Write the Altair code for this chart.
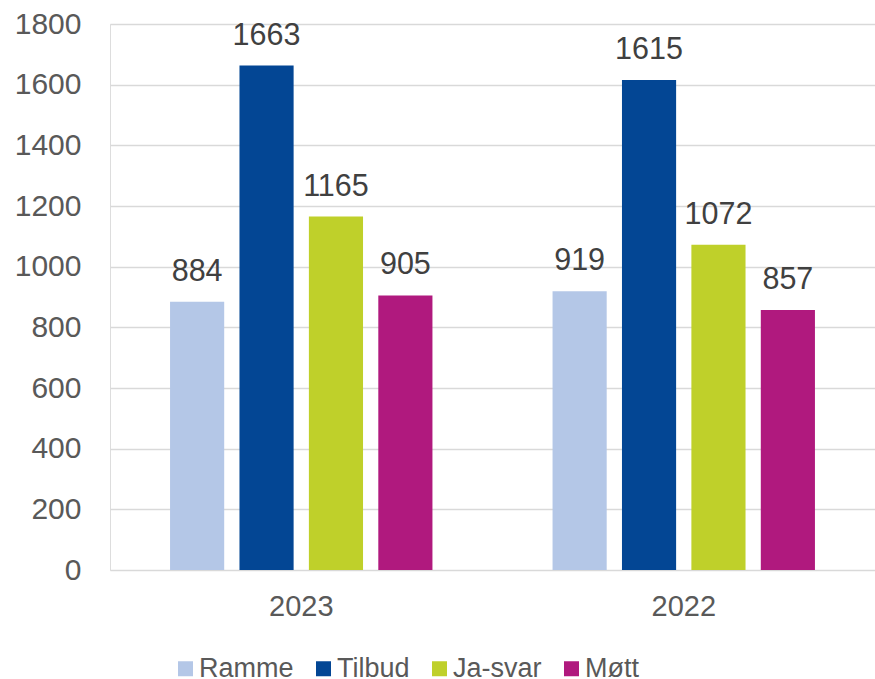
import altair as alt
import pandas as pd

# Grouped bar chart: four series per year
years = ["2023", "2022"]
series = ["Ramme", "Tilbud", "Ja-svar", "Møtt"]
values_2023 = [884, 1663, 1165, 905]
values_2022 = [919, 1615, 1072, 857]
colors = ["#B4C7E7", "#034694", "#BFD02A", "#B0197E"]

rows = []
for year, vals in zip(years, [values_2023, values_2022]):
    for s, v in zip(series, vals):
        rows.append({"År": year, "Serie": s, "Verdi": v})
df = pd.DataFrame(rows)

FONT = "Liberation Sans"

base = alt.Chart(df).encode(
    x=alt.X(
        "År:N",
        sort=years,
        title=None,
        scale=alt.Scale(paddingInner=0.314, paddingOuter=0.157),
        axis=alt.Axis(
            labelAngle=0,
            labelFontSize=29,
            labelColor="#595959",
            labelFont=FONT,
            labelPadding=22,
            ticks=False,
            domain=False,
            grid=False,
        ),
    ),
    xOffset=alt.XOffset(
        "Serie:N",
        sort=series,
        scale=alt.Scale(paddingInner=0.22, paddingOuter=0),
    ),
    y=alt.Y(
        "Verdi:Q",
        title=None,
        scale=alt.Scale(domain=[0, 1800], nice=False),
        axis=alt.Axis(
            values=list(range(0, 1801, 200)),
            format="d",
            labelFontSize=30,
            labelColor="#595959",
            labelFont=FONT,
            labelPadding=29,
            ticks=False,
            domain=False,
            grid=True,
            gridColor="#D9D9D9",
            gridWidth=1.5,
        ),
    ),
)

bars = base.mark_bar().encode(
    color=alt.Color(
        "Serie:N",
        sort=series,
        scale=alt.Scale(domain=series, range=colors),
        legend=alt.Legend(
            title=None,
            orient="none",
            direction="horizontal",
            legendX=62,
            legendY=631,
            symbolType="square",
            symbolSize=225,
            symbolStrokeWidth=0,
            symbolOpacity=1,
            labelFontSize=27,
            labelColor="#595959",
            labelFont=FONT,
            labelOffset=0,
            labelLimit=300,
            columnPadding=16,
        ),
    )
)

labels = base.mark_text(
    baseline="alphabetic",
    dy=-21,
    fontSize=30.5,
    font=FONT,
    color="#404040",
).encode(text="Verdi:Q")

chart = (
    alt.layer(bars, labels)
    .properties(
        width=765,
        height=546,
        autosize=alt.AutoSizeParams(type="none"),
        padding={"left": 110, "top": 24, "right": 0, "bottom": 109},
    )
    .configure_view(stroke=None)
    .configure(background="white")
)

chart.save("out.html", embed_options={"renderer": "svg", "actions": False})
